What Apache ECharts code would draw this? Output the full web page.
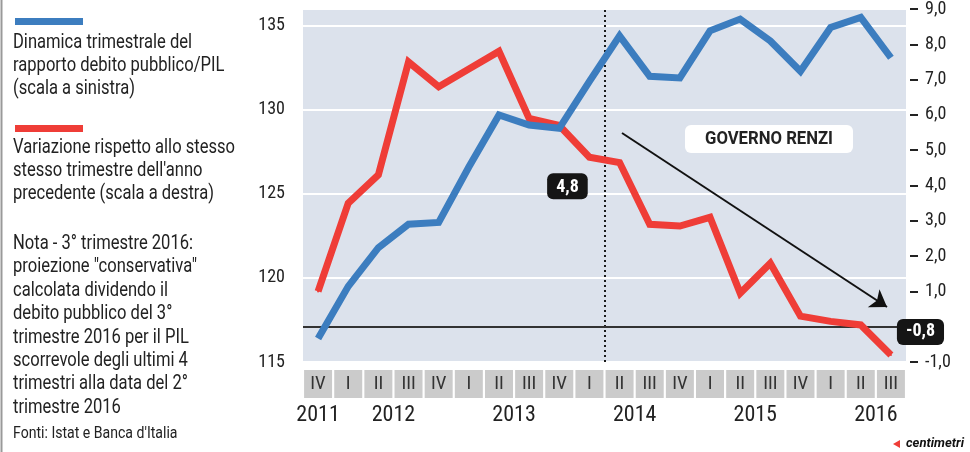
<!DOCTYPE html>
<html><head><meta charset="utf-8">
<script src="https://cdn.jsdelivr.net/npm/echarts@6/dist/echarts.min.js"></script>
<style>html,body{margin:0;padding:0;background:#fff}#c{width:970px;height:452px}</style>
</head><body><div id="c"></div>
<script>
// ---- data ----
const quarters = ['IV','I','II','III','IV','I','II','III','IV','I','II','III','IV','I','II','III','IV','I','II','III'];
const debtRatio = [116.4,119.5,121.8,123.2,123.3,126.6,129.7,129.1,128.9,131.7,134.4,132.0,131.9,134.7,135.4,134.1,132.3,134.9,135.5,133.1];
const yoyChange = [1.0,3.5,4.3,7.5,6.8,7.3,7.8,5.9,5.7,4.8,4.65,2.9,2.85,3.1,0.95,1.8,0.3,0.15,0.05,-0.8];
const yearLabels = ['2011','2012','2013','2014','2015','2016'];
const yearPositions = [0,2.5,6.5,10.5,14.5,18.5];
const leftTicks = [115,120,125,130,135];
const labelledPoints = [9,19];
const renziStart = 9.5;   // boundary between Q1 and Q2 2014
const legendBlue = ['Dinamica trimestrale del','rapporto debito pubblico/PIL','(scala a sinistra)'];
const legendRed = ['Variazione rispetto allo stesso','stesso trimestre dell\'anno','precedente (scala a destra)'];
const noteLines = ['Nota - 3° trimestre 2016:','proiezione "conservativa"','calcolata dividendo il','debito pubblico del 3°','trimestre 2016 per il PIL','scorrevole degli ultimi 4','trimestri alla data del 2°','trimestre 2016'];
const sourceLine = 'Fonti: Istat e Banca d\'Italia';
const governoLabel = 'GOVERNO RENZI';

// ---- styling ----
const COND = "'Roboto Condensed','Liberation Sans Narrow','DejaVu Sans Condensed',Roboto,sans-serif";
const BLUE = '#3c7dbf', RED = '#ef3d37', TXT = '#222';
const fmtComma = v => v.toFixed(1).replace('.', ',');

const mctx = document.createElement('canvas').getContext('2d');
function measure(t, font){ mctx.font = font; return mctx.measureText(t).width; }
const bodyScale = 222 / measure(legendRed[0], '20px Roboto');
const govScale = 128 / measure(governoLabel, 'bold 18px Roboto');

const graphics = [];
graphics.push({type:'line', shape:{x1:1.5,y1:0,x2:1.5,y2:452}, style:{stroke:'#999', lineWidth:2}, silent:true});
graphics.push({type:'rect', shape:{x:15,y:18,width:68,height:7}, style:{fill:BLUE}});
graphics.push({type:'rect', shape:{x:15,y:125,width:68,height:7}, style:{fill:RED}});
function addLines(lines, baseline0, step, size, scale){
  lines.forEach((t,i)=>{
    graphics.push({type:'text', x:13, y:baseline0 + i*step - size*0.35, scaleX:scale,
      style:{text:t, x:0, y:0, fill:TXT, font: size+'px Roboto', textAlign:'left', textVerticalAlign:'middle'}});
  });
}
addLines(legendBlue, 50, 23, 20, bodyScale);
addLines(legendRed, 155, 23, 20, bodyScale);
addLines(noteLines, 251, 23.4, 20, bodyScale);
addLines([sourceLine], 440, 0, 17, bodyScale);
graphics.push({type:'rect', shape:{x:685,y:125,width:168,height:28,r:6}, style:{fill:'#fff'}});
graphics.push({type:'text', x:769, y:139, scaleX:govScale,
  style:{text:governoLabel, x:0, y:0, fill:TXT, font:'bold 18px Roboto', textAlign:'center', textVerticalAlign:'middle'}});
graphics.push({type:'text', x:964, y:444, style:{text:'centimetri', fill:'#111', font:'italic bold 13px Roboto', textAlign:'right', textVerticalAlign:'middle'}});
graphics.push({type:'polygon', shape:{points:[[893,444],[900,440],[900,448]]}, style:{fill:RED}});

const redData = yoyChange.map((v,i)=>{
  if (i === labelledPoints[0]) return {value:v, label:{show:true, position:'bottom', distance:15, offset:[-22,0], formatter:p=>fmtComma(p.value)}};
  if (i === labelledPoints[1]) return {value:v, label:{show:true, position:'right', distance:5, offset:[0,-23], formatter:p=>fmtComma(p.value)}};
  return v;
});
const boxLabel = {color:'#fff', backgroundColor:'#151515', borderRadius:6, padding:[4,9,2,9], fontFamily:COND, fontWeight:'bold', fontSize:18, lineHeight:20};

const chart = echarts.init(document.getElementById('c'), null, {renderer:'canvas'});
chart.setOption({
  animation:false,
  backgroundColor:'#fff',
  grid:{left:303, right:64, top:5, bottom:90, show:true, backgroundColor:'#dce2ec', borderWidth:0},
  xAxis:[{
    type:'category', data:quarters, boundaryGap:true,
    axisLine:{show:false}, axisTick:{show:false}, splitLine:{show:false},
    axisLabel:{interval:0, margin:8, color:'#333', fontFamily:COND, fontSize:19,
      backgroundColor:'#cbcbcb', width:28, height:28, lineHeight:28, align:'center'}
  },{
    type:'value', min:-0.5, max:19.5, interval:0.5, position:'bottom',
    axisLine:{show:false}, axisTick:{show:false}, splitLine:{show:false},
    axisLabel:{margin:42, color:TXT, fontFamily:COND, fontSize:22, showMinLabel:true, showMaxLabel:true,
      formatter:v=>{ const k = yearPositions.findIndex(p=>Math.abs(p-v)<1e-6); return k>=0 ? yearLabels[k] : ''; }}
  }],
  yAxis:[{
    type:'value', min:115, max:136, interval:5, position:'left',
    axisLine:{show:false}, axisTick:{show:false},
    axisLabel:{margin:18, color:TXT, fontFamily:COND, fontSize:18, formatter:v=> leftTicks.includes(v) ? String(v) : ''},
    splitLine:{show:true, lineStyle:{color:'#fff', width:2}}
  },{
    type:'value', min:-1, max:9, interval:1, position:'right', offset:4,
    axisLine:{show:false}, axisTick:{show:true, length:8, lineStyle:{color:'#222', width:2}},
    axisLabel:{margin:15, color:TXT, fontFamily:COND, fontSize:18, formatter:v=> v === 0 ? '' : fmtComma(v)},
    splitLine:{show:false}
  }],
  series:[{
    type:'line', name:'governo', data:[], xAxisIndex:1, yAxisIndex:0,
    markLine:{silent:true, symbol:['none','none'], z:1, label:{show:false},
      lineStyle:{color:'#1a1a1a', width:2, type:[2,3]},
      data:[{xAxis:renziStart}]}
  },{
    type:'line', name:'debito/PIL', data:debtRatio, xAxisIndex:0, yAxisIndex:0,
    showSymbol:false, symbol:'none', lineStyle:{color:BLUE, width:7, join:'miter'}, z:3
  },{
    type:'line', name:'variazione', data:redData, xAxisIndex:0, yAxisIndex:1,
    symbol:'circle', symbolSize:2, showSymbol:true, itemStyle:{color:RED},
    label:Object.assign({show:false}, boxLabel),
    lineStyle:{color:RED, width:7, join:'miter'}, z:2,
    markLine:{silent:true, symbol:['none','none'], z:1, label:{show:false},
      data:[
        {yAxis:0, lineStyle:{color:'#333', width:2, type:'solid'}},
        [{x:622, y:133, symbol:'none'}, {x:887, y:307, symbol:'arrow', symbolSize:16, lineStyle:{color:'#111', width:2, type:'solid'}}]
      ]}
  }],
  graphic:graphics
});
</script></body></html>
